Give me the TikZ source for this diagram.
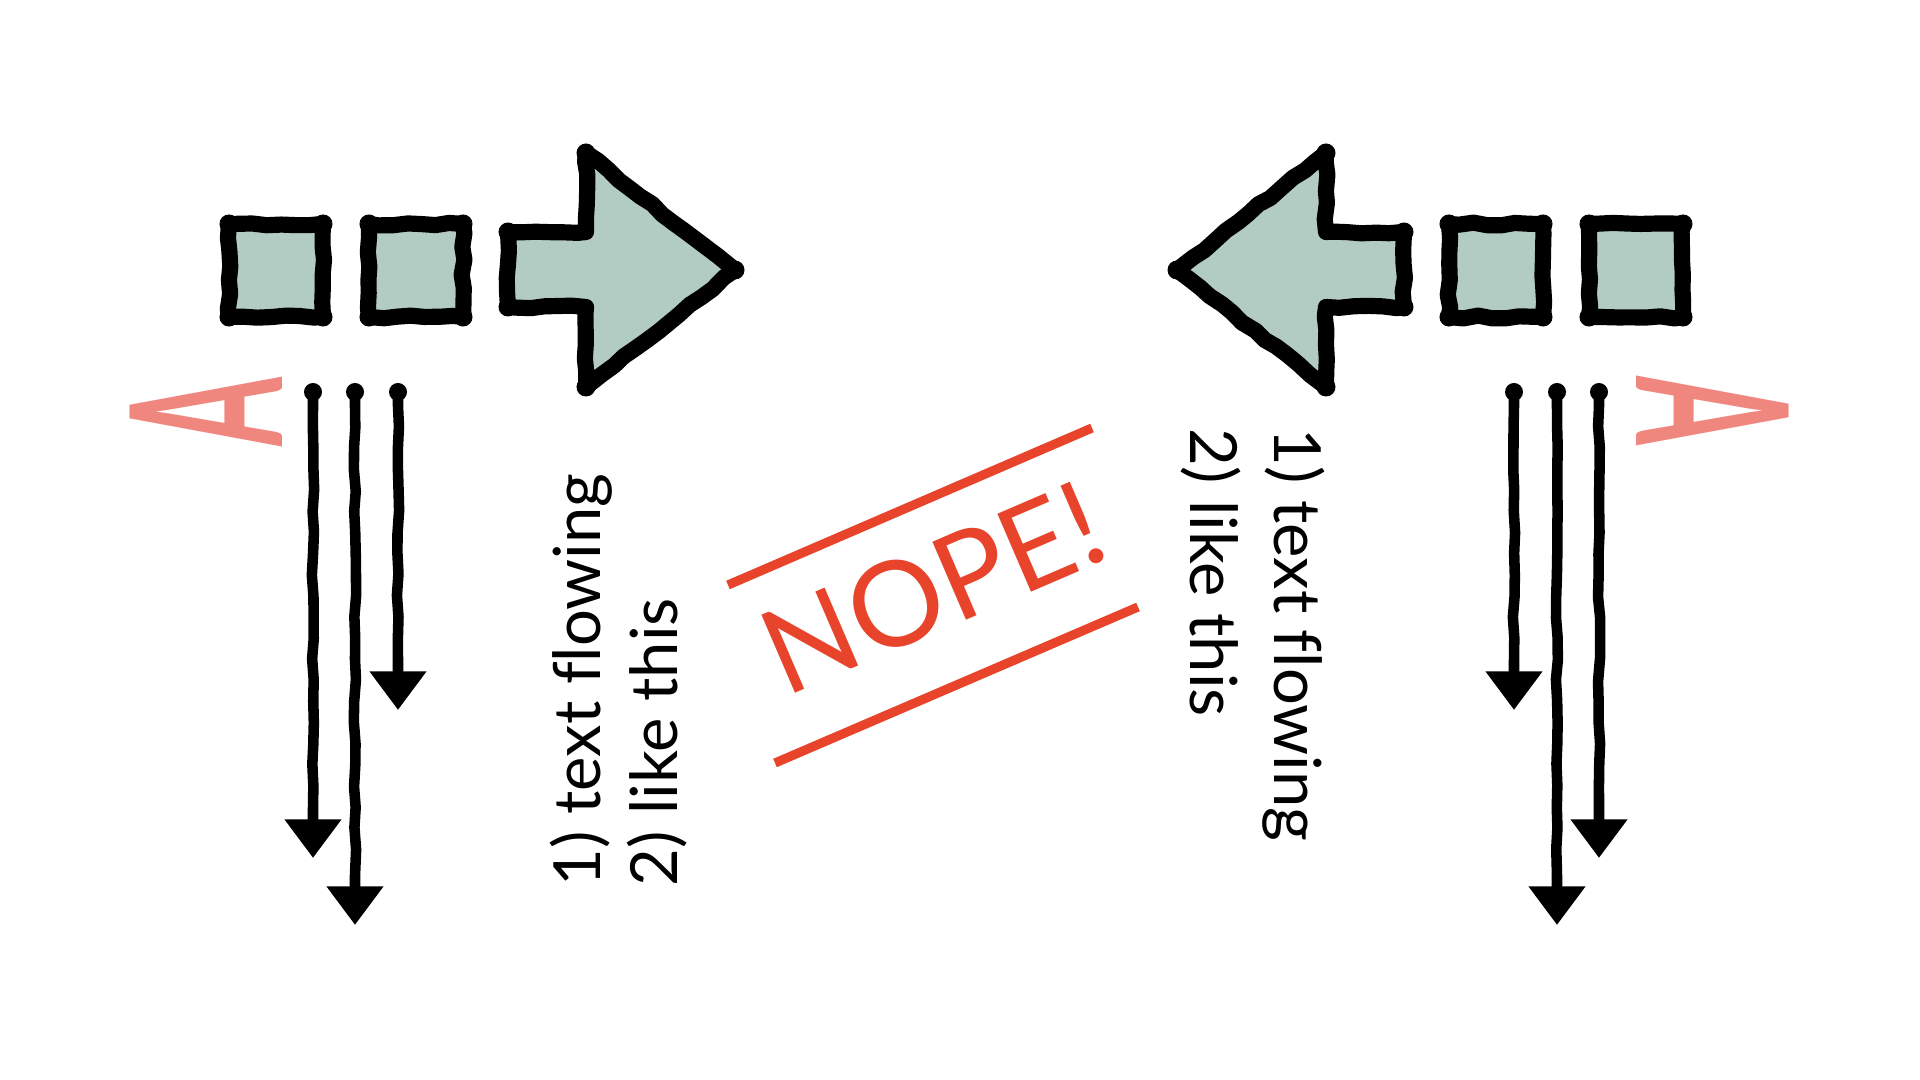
\documentclass[tikz,border=0pt]{standalone}
\usepackage{fontspec}
\newfontfamily\labelfont{Lato}[Ligatures=NoCommon]
\usetikzlibrary{arrows.meta,decorations.pathmorphing}

\definecolor{tilefill}{RGB}{178,204,196}
\definecolor{nopered}{RGB}{232,67,43}
\definecolor{markpink}{RGB}{240,135,126}

\tikzset{
  sketch/.style={draw=black, line width=4.6pt, line join=round, fill=tilefill,
    decorate, decoration={random steps, segment length=4pt, amplitude=0.4pt}},
  tile/.style={sketch, minimum width=0.94cm, minimum height=0.93cm, inner sep=0pt, outer sep=0pt},
  flow/.style={line width=3pt, -{Triangle[length=11pt,width=15.5pt]},
    decorate, decoration={random steps, segment length=6pt, amplitude=0.35pt,
      pre length=4pt, post length=14pt}},
  flowtext/.style={font=\labelfont\fontsize{18.5}{22}\selectfont, inner sep=0pt},
  letterA/.style={text=markpink, font=\labelfont\bfseries\fontsize{60}{60}\selectfont, inner sep=0pt},
  strike/.style={draw=nopered, line width=2.6pt}
}

\begin{document}
\begin{tikzpicture}[x=0.01cm, y=-0.01cm]
  \useasboundingbox (0,0) rectangle (1920,1080);
  \pgfmathsetseed{7}

  %% Left: tiles and arrow
  \node[tile] (l1) at (276,270.5) {};
  \node[tile] (l2) at (416,270.5) {};
  \draw[sketch] (508,232) -- (586,232) -- (586,153) -- (735,270) -- (586,387)
    -- (586,307) -- (508,307) -- cycle;

  %% Right: arrow and tiles
  \draw[sketch] (1404,232) -- (1326,232) -- (1326,153) -- (1177,270) -- (1326,387)
    -- (1326,307) -- (1404,307) -- cycle;
  \node[tile] (r1) at (1496,270.5) {};
  \node[tile] (r2) at (1636,270.5) {};

  %% corner blobs
  \foreach \n in {l1,l2,r1,r2}
    \foreach \c in {north west,north east,south west,south east}
      \fill (\n.\c) circle (0.095cm);
  \foreach \p in {(508,232),(508,307),(586,153),(586,387),(735,270),
                  (1404,232),(1404,307),(1326,153),(1326,387),(1177,270)}
    \fill \p circle (0.095cm);

  %% Left: downward flow
  \coordinate (ls1) at (313,392);  \coordinate (le1) at (313,858);
  \coordinate (ls2) at (355,392);  \coordinate (le2) at (355,925);
  \coordinate (ls3) at (398,392);  \coordinate (le3) at (398,710);
  \draw[flow] (ls1) -- (le1);
  \draw[flow] (ls2) -- (le2);
  \draw[flow] (ls3) -- (le3);
  \foreach \s in {ls1,ls2,ls3} \fill (\s) circle (0.09cm);
  \node[letterA, rotate=90] (lA) at (206,412) {\scalebox{0.47}[1]{A}};

  %% Right: downward flow
  \coordinate (rs1) at (1514,392);  \coordinate (re1) at (1514,710);
  \coordinate (rs2) at (1557,392);  \coordinate (re2) at (1557,925);
  \coordinate (rs3) at (1599,392);  \coordinate (re3) at (1599,858);
  \draw[flow] (rs1) -- (re1);
  \draw[flow] (rs2) -- (re2);
  \draw[flow] (rs3) -- (re3);
  \foreach \s in {rs1,rs2,rs3} \fill (\s) circle (0.09cm);
  \node[letterA, rotate=-90] (rA) at (1713,411) {\scalebox{0.47}[1]{A}};

  %% Text
  \node[flowtext, rotate=90, anchor=base west] (lone) at (600,887) {1) text flowing};
  \node[flowtext, rotate=90, anchor=base west] (ltwo) at (677,887) {2) like this};
  \node[flowtext, rotate=-90, anchor=base west] (rone) at (1274,428) {1) text flowing};
  \node[flowtext, rotate=-90, anchor=base west] (rtwo) at (1190,428) {2) like this};

  %% NOPE!
  \node[rotate=23.3, text=nopered, font=\labelfont\fontsize{33.7}{40}\selectfont,
    inner sep=0pt] (nope) at (933,588) {NOPE!};
  \draw[strike] (728,585) -- (1092,428);
  \draw[strike] (775,763) -- (1138,607);
\end{tikzpicture}
\end{document}
